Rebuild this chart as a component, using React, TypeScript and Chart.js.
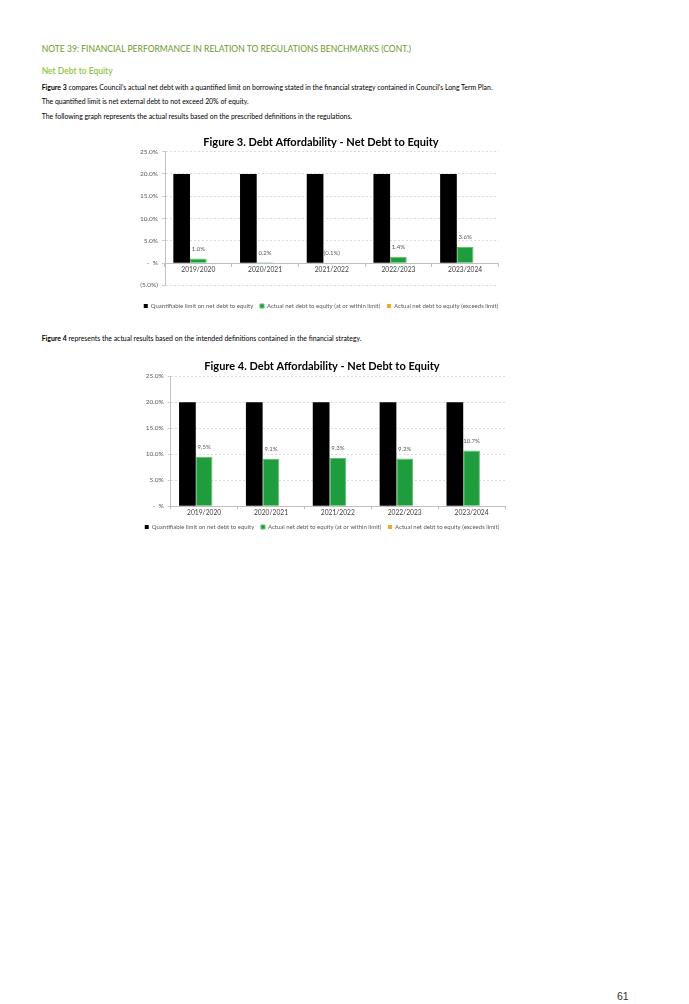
import { useEffect, useRef } from "react";
import { Chart, registerables } from "chart.js";

Chart.register(...registerables);
Chart.defaults.font.family = "Lato, 'Open Sans', sans-serif";

const years = ["2019/2020", "2020/2021", "2021/2022", "2022/2023", "2023/2024"];
const seriesNames = [
  "Quantifiable limit on net debt to equity",
  "Actual net debt to equity (at or within limit)",
  "Actual net debt to equity (exceeds limit)",
];
const limitValues = [20, 20, 20, 20, 20];
const fig3Actual = [1.0, 0.2, -0.1, 1.4, 3.6];
const fig3Exceeds = [null, null, null, null, null];
const fig4Actual = [9.5, 9.1, 9.3, 9.2, 10.7];
const fig4Exceeds = [null, null, null, null, null];
const fig3Range = [-5, 25];
const fig4Range = [0, 25];
const tickStep = 5;

const axisPct = (v: number) =>
  v === 0 ? "-  %" : v < 0 ? `(${Math.abs(v).toFixed(1)}%)` : `${v.toFixed(1)}%`;
const labelPct = (v: number) =>
  v < 0 ? `(${Math.abs(v).toFixed(1)}%)` : `${v.toFixed(1)}%`;

// draws the value above each green bar (above the zero line when negative)
const valueLabels = {
  id: "valueLabels",
  afterDatasetsDraw(chart: any) {
    const { ctx } = chart;
    const zero = chart.scales.y.getPixelForValue(0);
    const values = chart.data.datasets[1].data as number[];
    ctx.save();
    ctx.font = "6px Lato";
    ctx.fillStyle = "#595959";
    ctx.textAlign = "center";
    ctx.textBaseline = "middle";
    chart.getDatasetMeta(1).data.forEach((bar: any, i: number) => {
      ctx.fillText(labelPct(values[i]), bar.x, Math.min(bar.y, zero) - 9.5);
    });
    ctx.restore();
  },
};

type FigProps = {
  title: string;
  actual: number[];
  exceeds: (number | null)[];
  range: number[];
  zeroAxis: boolean;
  axisWidth: number;
  rightGap: number;
  titleTop: number;
  titleGap: number;
  legendGap: number;
  box: { left: number; top: number; width: number; height: number };
};

function DebtChart({
  title,
  actual,
  exceeds,
  range,
  zeroAxis,
  axisWidth,
  rightGap,
  titleTop,
  titleGap,
  legendGap,
  box,
}: FigProps) {
  const canvasRef = useRef<HTMLCanvasElement | null>(null);

  useEffect(() => {
    if (!canvasRef.current) return;

    const chart = new Chart(canvasRef.current, {
      type: "bar",
      data: {
        labels: years,
        datasets: [
          {
            label: seriesNames[0],
            data: limitValues,
            backgroundColor: "#000000",
            borderWidth: 0,
          },
          {
            label: seriesNames[1],
            data: actual,
            backgroundColor: "#1f9d3e",
            borderColor: "#5bc46d",
            borderWidth: 1,
          },
          {
            label: seriesNames[2],
            data: exceeds,
            backgroundColor: "#f7a823",
            borderWidth: 0,
          },
        ],
      },
      options: {
        responsive: true,
        maintainAspectRatio: false,
        animation: false,
        datasets: {
          bar: { categoryPercentage: 0.75, barPercentage: 1 },
        },
        layout: { padding: 0 },
        plugins: {
          title: {
            display: true,
            text: title,
            color: "#000000",
            font: { size: 11, weight: "bold" },
            padding: { top: titleTop, bottom: titleGap },
          },
          legend: {
            position: "bottom",
            title: {
              display: legendGap > 0,
              text: "",
              font: { size: 5 },
              padding: { top: 0, bottom: legendGap },
            },
            labels: {
              color: "#595959",
              boxWidth: 4,
              boxHeight: 4,
              padding: 6.7,
              font: { size: 6 },
            },
          },
          tooltip: { enabled: false },
        },
        scales: {
          x: {
            position: zeroAxis ? { y: 0 } : "bottom",
            grid: {
              drawOnChartArea: false,
              drawTicks: true,
              tickLength: 3,
              tickColor: "#bfbfbf",
            },
            border: { color: "#bfbfbf" },
            ticks: { color: "#404040", font: { size: 6.7 }, padding: 0 },
            afterFit: (s: any) => {
              s.paddingRight = rightGap;
            },
          },
          y: {
            min: range[0],
            max: range[1],
            ticks: {
              stepSize: tickStep,
              color: "#595959",
              font: { size: 6.5 },
              padding: 4,
              callback: (v: any) => axisPct(Number(v)),
            },
            grid: {
              color: "#d4d4d4",
              lineWidth: 0.8,
              tickLength: 3,
              tickColor: "#bfbfbf",
            },
            border: { color: "#bfbfbf", dash: [2, 2] },
            afterFit: (s: any) => {
              s.width = axisWidth;
            },
          },
        },
      } as any,
      plugins: [valueLabels],
    });

    return () => {
      chart.destroy();
    };
  }, [title, actual, exceeds, range, zeroAxis, axisWidth, rightGap, titleTop, titleGap, legendGap]);

  return (
    <div
      style={{
        position: "absolute",
        left: box.left,
        top: box.top,
        width: box.width,
        height: box.height,
      }}
    >
      <canvas ref={canvasRef}></canvas>
    </div>
  );
}

const txt = (top: number, size: number, extra: object = {}) => ({
  position: "absolute" as const,
  left: 41.7,
  top,
  fontSize: size,
  lineHeight: 1,
  whiteSpace: "nowrap" as const,
  color: "#000000",
  ...extra,
});

export default function App() {
  return (
    <div
      style={{
        position: "relative",
        width: 689,
        height: 1004,
        background: "#ffffff",
        fontFamily: "Lato, 'Open Sans', sans-serif",
        overflow: "hidden",
      }}
    >
      <style>{`body { margin: 0; }`}</style>

      <div style={txt(44.7, 8.55, { color: "#6a9a2a" })}>
        NOTE 39: FINANCIAL PERFORMANCE IN RELATION TO REGULATIONS BENCHMARKS (CONT.)
      </div>
      <div style={txt(66.7, 8.5, { color: "#8dc63f", fontWeight: 600 })}>Net Debt to Equity</div>
      <div style={txt(83.8, 6.9)}>
        <b>Figure 3</b> compares Council’s actual net debt with a quantified limit on borrowing
        stated in the financial strategy contained in Council’s Long Term Plan.
      </div>
      <div style={txt(98.2, 6.9)}>
        The quantified limit is net external debt to not exceed 20% of equity.
      </div>
      <div style={txt(112.5, 6.9)}>
        The following graph represents the actual results based on the prescribed definitions in
        the regulations.
      </div>

      <DebtChart
        title="Figure 3. Debt Affordability - Net Debt to Equity"
        actual={fig3Actual}
        exceeds={fig3Exceeds}
        range={fig3Range}
        zeroAxis={true}
        axisWidth={38}
        rightGap={16.5}
        titleTop={6.1}
        titleGap={2.4}
        legendGap={5}
        box={{ left: 127, top: 130, width: 388, height: 189 }}
      />

      <div style={txt(334.8, 6.9)}>
        <b>Figure 4</b> represents the actual results based on the intended definitions contained
        in the financial strategy.
      </div>

      <DebtChart
        title="Figure 4. Debt Affordability - Net Debt to Equity"
        actual={fig4Actual}
        exceeds={fig4Exceeds}
        range={fig4Range}
        zeroAxis={false}
        axisWidth={35.7}
        rightGap={4}
        titleTop={5.9}
        titleGap={3.1}
        legendGap={0}
        box={{ left: 135, top: 353.5, width: 374, height: 186 }}
      />

      <div
        style={{
          position: "absolute",
          left: 617,
          top: 991,
          fontSize: 10.5,
          lineHeight: 1,
          color: "#333333",
          fontFamily: "'Liberation Sans', Arial, sans-serif",
        }}
      >
        61
      </div>
    </div>
  );
}
